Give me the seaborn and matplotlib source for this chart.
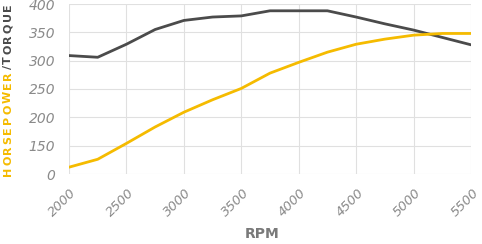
import matplotlib
matplotlib.use("Agg")
import matplotlib.pyplot as plt
import matplotlib.transforms as mtransforms
import seaborn as sns
import pandas as pd

rpm = [2000, 2250, 2500, 2750, 3000, 3250, 3500, 3750, 4000, 4250, 4500, 4750, 5000, 5250, 5500]
torque = [309, 306, 329, 355, 371, 377, 379, 388, 388, 388, 377, 365, 354, 341, 328]
horsepower = [112, 126, 154, 183, 209, 231, 251, 278, 297, 315, 329, 338, 345, 348, 348]
y_ticks = [100, 150, 200, 250, 300, 350, 400]
y_tick_labels = ["0", "150", "200", "250", "300", "350", "400"]
x_ticks = [2000, 2500, 3000, 3500, 4000, 4500, 5000, 5500]
label_parts = [("HORSEPOWER", "#f5bb00"), ("/TORQUE", "#4b4b4b")]

sns.set_style("white")
plt.rcParams['font.family'] = ['DejaVu Sans']

fig = plt.figure(figsize=(4.82, 2.44), dpi=100)
ax = fig.add_axes([69/482, 1-174/244, (471-69)/482, (174-4)/244])

df = pd.DataFrame({"rpm": rpm, "torque": torque, "hp": horsepower})
sns.lineplot(data=df, x="rpm", y="torque", ax=ax, color="#4b4b4b", linewidth=2.0)
sns.lineplot(data=df, x="rpm", y="hp", ax=ax, color="#f5bb00", linewidth=2.0)

ax.set_xlim(2000, 5500)
ax.set_ylim(100, 400)
ax.set_xticks(x_ticks)
ax.set_yticks(y_ticks)
ax.set_yticklabels(y_tick_labels)
ax.grid(True, color="#e0e0e0", linewidth=0.8)
ax.set_axisbelow(True)
for s in ax.spines.values():
    s.set_visible(False)
ax.tick_params(axis="both", length=0, labelsize=10, labelcolor="#8a8a8a")
ax.tick_params(axis="y", pad=10)
ax.tick_params(axis="x", pad=5, labelsize=9.5)
offset = mtransforms.ScaledTranslation(1/100, -5/100, fig.dpi_scale_trans)
for lab in ax.get_xticklabels():
    lab.set_rotation(45)
    lab.set_ha("right")
    lab.set_va("top")
    lab.set_fontstyle("italic")
    lab.set_rotation_mode("anchor")
    lab.set_transform(lab.get_transform() + offset)
for lab in ax.get_yticklabels():
    lab.set_fontstyle("italic")

ax.set_xlabel("RPM", fontsize=10, fontweight="bold", color="#7a7a7a", va="center")
ax.xaxis.set_label_coords((262-69)/402, -(234-174)/170)
ax.set_ylabel("")

# two-coloured, letter-spaced y label, placed glyph by glyph
fig.canvas.draw()
renderer = fig.canvas.get_renderer()
H = fig.bbox.height
chars = [(c, col) for part, col in label_parts for c in part]
texts = []
widths = []
for c, col in chars:
    t = fig.text(8/482, 0, c, rotation=90, color=col, fontsize=8, fontweight="bold",
                 ha="center", va="bottom")
    texts.append(t)
    widths.append(t.get_window_extent(renderer=renderer).height)
start_px = 244 - 176
end_px = 244 - 3
track = ((end_px - start_px) - sum(widths)) / (len(chars) - 1)
pos = start_px
for t, w in zip(texts, widths):
    t.set_y(pos / H)
    pos += w + track

fig.savefig("out.png", dpi=100)
